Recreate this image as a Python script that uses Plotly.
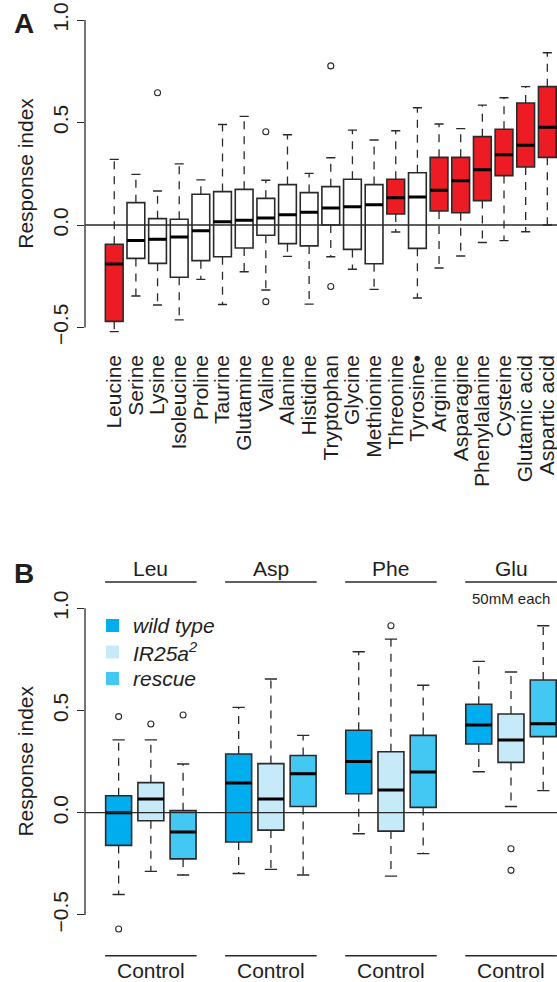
import plotly.graph_objects as go

# ---------------- DATA ----------------
# Panel A: amino acids (sorted by median response)
amino_acids = ["Leucine", "Serine", "Lysine", "Isoleucine", "Proline", "Taurine",
               "Glutamine", "Valine", "Alanine", "Histidine", "Tryptophan", "Glycine",
               "Methionine", "Threonine", "Tyrosine•", "Arginine", "Asparagine",
               "Phenylalanine", "Cysteine", "Glutamic acid", "Aspartic acid"]
a_lower = [-0.52, -0.346, -0.39, -0.463, -0.265, -0.388, -0.228, -0.317, -0.153, -0.386,
           -0.155, -0.216, -0.314, -0.034, -0.356, -0.21, -0.151, -0.085, -0.076, -0.033, 0.0]
a_q1 = [-0.47, -0.163, -0.187, -0.255, -0.174, -0.155, -0.112, -0.05, -0.091, -0.102,
        0.0, -0.119, -0.189, 0.054, -0.114, 0.068, 0.06, 0.119, 0.241, 0.283, 0.33]
a_median = [-0.19, -0.075, -0.07, -0.058, -0.028, 0.016, 0.023, 0.034, 0.05, 0.062,
            0.083, 0.089, 0.099, 0.133, 0.137, 0.169, 0.216, 0.27, 0.343, 0.389, 0.477]
a_q3 = [-0.094, 0.109, 0.031, 0.028, 0.15, 0.163, 0.174, 0.13, 0.197, 0.158,
        0.187, 0.223, 0.197, 0.223, 0.255, 0.33, 0.33, 0.431, 0.467, 0.595, 0.675]
a_upper = [0.32, 0.247, 0.166, 0.298, 0.22, 0.49, 0.53, 0.218, 0.44, 0.252,
           0.328, 0.463, 0.415, 0.46, 0.572, 0.493, 0.47, 0.585, 0.621, 0.675, 0.84]
a_significant = ["Leucine", "Threonine", "Arginine", "Asparagine", "Phenylalanine",
                 "Cysteine", "Glutamic acid", "Aspartic acid"]
a_outlier_names = ["Lysine", "Valine", "Valine", "Tryptophan", "Tryptophan"]
a_outlier_values = [0.645, 0.455, -0.374, 0.776, -0.30]

# Panel B: genotypes x stimuli
b_groups = ["Leu", "Asp", "Phe", "Glu"]
b_genotypes = ["wild type", "IR25a<sup>2</sup>", "rescue"]
b_colors = ["#00AEEF", "#C7EAF9", "#43C8F4"]
# per genotype, per group: lower whisker, q1, median, q3, upper whisker
b_lower = [[-0.40, -0.297, -0.103, 0.20],
           [-0.287, -0.277, -0.31, 0.03],
           [-0.305, -0.305, -0.20, 0.108]]
b_q1 = [[-0.16, -0.143, 0.093, 0.336],
        [-0.039, -0.085, -0.09, 0.246],
        [-0.226, 0.03, 0.026, 0.372]]
b_median = [[0.0, 0.145, 0.25, 0.429],
            [0.067, 0.067, 0.111, 0.356],
            [-0.094, 0.191, 0.199, 0.435]]
b_q3 = [[0.083, 0.287, 0.403, 0.53],
        [0.147, 0.24, 0.298, 0.483],
        [0.01, 0.28, 0.378, 0.649]]
b_upper = [[0.356, 0.515, 0.787, 0.74],
           [0.356, 0.654, 0.849, 0.688],
           [0.238, 0.378, 0.623, 0.914]]
b_outlier_geno = [0, 0, 1, 2, 1, 1, 1]
b_outlier_group = [0, 0, 0, 0, 2, 3, 3]
b_outlier_values = [0.47, -0.569, 0.434, 0.478, 0.914, -0.176, -0.282]
b_bottom_label = "Control"
b_note = "50mM each"

y_tickvals = [-0.5, 0.0, 0.5, 1.0]
y_ticktext = ["\u22120.5", "0.0", "0.5", "1.0"]

# ---------------- STYLE / LAYOUT HELPERS ----------------
W, H = 557, 982
FONT = "Liberation Sans, Arial, Helvetica, sans-serif"
TXT = "#1e1e1e"
EDGE = "#2a2a2a"
RED = "#ED1C24"

def fy(px):
    return 1 - px / H

def fx(px):
    return px / W

# pixel geometry of the panels (value -> pixel maps)
A_X0, A_DX = 114.3, 21.7            # first box centre, spacing
A_Y0, A_DY = 225.0, 205.0           # pixel of 0, pixels per unit
B_X0, B_DX = 118.7, 32.3
B_Y0, B_DY = 812.7, 204.5
B_GSTEP = 120.3 / 32.3              # group step in box units
AX_PX = 85.0

a_yr = [-0.56, 1.05]
b_yr = [-0.62, 1.02]
a_dom_y = [fy(A_Y0 - A_DY * a_yr[0]), fy(A_Y0 - A_DY * a_yr[1])]
b_dom_y = [fy(B_Y0 - B_DY * b_yr[0]), fy(B_Y0 - B_DY * b_yr[1])]
a_xr = [(AX_PX - A_X0) / A_DX, (558 - A_X0) / A_DX]
b_xr = [(AX_PX - B_X0) / B_DX, (558 - B_X0) / B_DX]

fig = go.Figure()

def add_box_set(xs, lower, q1, med, q3, upper, fills, xa, ya, bw, cap):
    wx, wy, cx, cy, mx, my = [], [], [], [], [], []
    for x, lo, a, m, b, up in zip(xs, lower, q1, med, q3, upper):
        wx += [x, x, None, x, x, None]
        wy += [b, up, None, a, lo, None]
        cx += [x - cap, x + cap, None, x - cap, x + cap, None]
        cy += [up, up, None, lo, lo, None]
        mx += [x - bw / 2, x + bw / 2, None]
        my += [m, m, None]
    fig.add_trace(go.Scatter(x=wx, y=wy, mode="lines", xaxis=xa, yaxis=ya,
                             line=dict(color=EDGE, width=1.3, dash="8px,7px"),
                             showlegend=False, hoverinfo="skip"))
    fig.add_trace(go.Scatter(x=cx, y=cy, mode="lines", xaxis=xa, yaxis=ya,
                             line=dict(color=EDGE, width=1.4),
                             showlegend=False, hoverinfo="skip"))
    for x, a, m, b, fc in zip(xs, q1, med, q3, fills):
        fig.add_trace(go.Box(x=[x], q1=[a], median=[m], q3=[b],
                             lowerfence=[a], upperfence=[b],
                             width=bw, whiskerwidth=0, boxpoints=False,
                             fillcolor=fc, line=dict(color=EDGE, width=1.6),
                             xaxis=xa, yaxis=ya, showlegend=False))
    fig.add_trace(go.Scatter(x=mx, y=my, mode="lines", xaxis=xa, yaxis=ya,
                             line=dict(color="black", width=3),
                             showlegend=False, hoverinfo="skip"))

# ---- Panel A ----
a_x = list(range(len(amino_acids)))
a_fill = [RED if n in a_significant else "white" for n in amino_acids]
add_box_set(a_x, a_lower, a_q1, a_median, a_q3, a_upper, a_fill, "x", "y", 0.82, 0.21)
fig.add_trace(go.Scatter(x=[amino_acids.index(n) for n in a_outlier_names],
                         y=a_outlier_values, mode="markers", xaxis="x", yaxis="y",
                         marker=dict(symbol="circle-open", size=6, color=EDGE,
                                     line=dict(width=1.1, color=EDGE)),
                         showlegend=False))

# ---- Panel B ----
def bpos(g, k):
    return g * B_GSTEP + k

for k in range(len(b_genotypes)):
    xs = [bpos(g, k) for g in range(len(b_groups))]
    add_box_set(xs, b_lower[k], b_q1[k], b_median[k], b_q3[k], b_upper[k],
                [b_colors[k]] * len(xs), "x2", "y2", 0.805, 0.19)
fig.add_trace(go.Scatter(x=[bpos(g, k) for g, k in zip(b_outlier_group, b_outlier_geno)],
                         y=b_outlier_values, mode="markers", xaxis="x2", yaxis="y2",
                         marker=dict(symbol="circle-open", size=6, color=EDGE,
                                     line=dict(width=1.1, color=EDGE)),
                         showlegend=False))

yaxis_common = dict(tickvals=y_tickvals, ticktext=y_ticktext, tickangle=-90,
                    ticks="outside", ticklen=7, tickwidth=1, tickcolor=EDGE,
                    showgrid=False, zeroline=False, showline=False, automargin=False,
                    tickfont=dict(family=FONT, size=21, color=TXT),
                    ticklabelstandoff=1)

fig.update_layout(
    template="none",
    width=W, height=H, margin=dict(l=0, r=0, t=0, b=0, autoexpand=False),
    paper_bgcolor="white", plot_bgcolor="white", boxmode="overlay",
    showlegend=False,
    xaxis=dict(domain=[fx(AX_PX), 1], range=a_xr, tickvals=a_x, ticktext=amino_acids,
               tickangle=-90, ticks="", showgrid=False, zeroline=False, showline=False,
               automargin=False, ticklabeloverflow="allow",
               tickfont=dict(family=FONT, size=21, color=TXT), ticklabelstandoff=10),
    yaxis=dict(domain=a_dom_y, range=a_yr, **yaxis_common),
    xaxis2=dict(domain=[fx(AX_PX), 1], range=b_xr, showticklabels=False, ticks="",
                showgrid=False, zeroline=False, showline=False, anchor="y2",
                automargin=False),
    yaxis2=dict(domain=b_dom_y, range=b_yr, anchor="x2", **yaxis_common),
)

shapes = []
annotations = []
for xa, ya in (("x", "y"), ("x2", "y2")):
    # zero line and R-style axis line
    shapes.append(dict(type="line", xref=f"{xa} domain", yref=ya, x0=0, x1=1, y0=0, y1=0,
                       line=dict(color=EDGE, width=1.3), layer="above"))
    shapes.append(dict(type="line", xref=f"{xa} domain", yref=ya, x0=0, x1=0,
                       y0=y_tickvals[0], y1=y_tickvals[-1],
                       line=dict(color=EDGE, width=1.3), layer="above"))

# y titles
for cpx in (A_Y0 - A_DY * 0.25, B_Y0 - B_DY * 0.25):
    annotations.append(dict(text="Response index", xref="paper", yref="paper",
                            x=fx(26), y=fy(cpx), textangle=-90, showarrow=False,
                            xanchor="center", yanchor="middle",
                            font=dict(family=FONT, size=21, color=TXT)))
# panel letters
for letter, top in (("A", 6), ("B", 556)):
    annotations.append(dict(text=f"<b>{letter}</b>", xref="paper", yref="paper",
                            x=fx(12), y=fy(top), xanchor="left", yanchor="top",
                            showarrow=False, font=dict(family=FONT, size=28, color=TXT)))

# panel B group brackets
for g, name in enumerate(b_groups):
    c = bpos(g, 1)
    for ypx in (582, 955.7):
        shapes.append(dict(type="line", xref="x2", yref="paper", x0=c - 1.42, x1=c + 1.42,
                           y0=fy(ypx), y1=fy(ypx), line=dict(color=EDGE, width=1.5)))
    annotations.append(dict(text=name, xref="x2", yref="paper", x=c, y=fy(568),
                            xanchor="center", yanchor="middle", showarrow=False,
                            font=dict(family=FONT, size=21, color=TXT)))
    annotations.append(dict(text=b_bottom_label, xref="x2", yref="paper", x=c, y=fy(970),
                            xanchor="center", yanchor="middle", showarrow=False,
                            font=dict(family=FONT, size=21, color=TXT)))
annotations.append(dict(text=b_note, xref="x2", yref="paper", x=bpos(3, 1), y=fy(598),
                        xanchor="center", yanchor="middle", showarrow=False,
                        font=dict(family=FONT, size=15, color=TXT)))

# legend (manual, R style)
for k, (lab, col) in enumerate(zip(b_genotypes, b_colors)):
    cy = 625.5 + 26.5 * k
    shapes.append(dict(type="rect", xref="paper", yref="paper",
                       x0=fx(106), x1=fx(119), y0=fy(cy - 6.5), y1=fy(cy + 6.5),
                       fillcolor=col, line=dict(width=0)))
    annotations.append(dict(text=f"<i>{lab}</i>", xref="paper", yref="paper",
                            x=fx(131), y=fy(cy), xanchor="left", yanchor="middle",
                            showarrow=False, font=dict(family=FONT, size=21, color=TXT)))

fig.update_layout(shapes=shapes, annotations=annotations)
fig.write_html("out.html")
